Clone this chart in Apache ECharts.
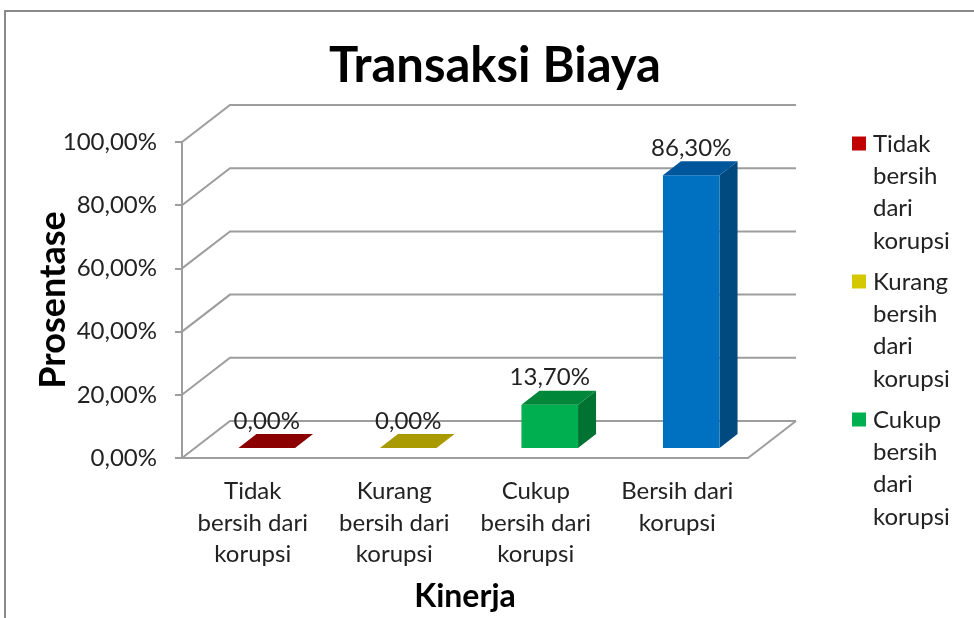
<!DOCTYPE html>
<html>
<head>
<meta charset="utf-8">
<script src="https://cdn.jsdelivr.net/npm/echarts@6/dist/echarts.min.js"></script>
<style>
  html, body { margin: 0; padding: 0; background: #fff; }
  #main { width: 974px; height: 618px; }
</style>
</head>
<body>
<div id="main"></div>
<script>
// data
var categories = ["Tidak bersih dari korupsi", "Kurang bersih dari korupsi", "Cukup bersih dari korupsi", "Bersih dari korupsi"];
var xLabels = ["Tidak\nbersih dari\nkorupsi", "Kurang\nbersih dari\nkorupsi", "Cukup\nbersih dari\nkorupsi", "Bersih dari\nkorupsi"];
var values = [0, 0, 13.7, 86.3];
var yTicks = [0, 20, 40, 60, 80, 100];

// warna per kategori: depan, samping, atas
var frontColors = ["#c00000", "#d6c800", "#00b050", "#0070c0"];
var sideColors = ["#6e0000", "#8a7f00", "#007232", "#004a80"];
var topColors = ["#8b0000", "#a89a00", "#00873a", "#00569a"];

var DX = 48, DY = -37;   // kedalaman dinding belakang
var BX = 18, BY = -14;   // kedalaman batang
var OX = 14, OY = -10;   // posisi batang di lantai

var font = "Lato";

function fmt(v) {
  return v.toFixed(2).replace(".", ",") + "%";
}

var myChart = echarts.init(document.getElementById("main"));

// dinding + garis grid "3D"
var wallSeries = {
  type: "custom",
  name: "wall",
  silent: true,
  z: 1,
  data: yTicks.map(function (v) { return [0, v]; }),
  renderItem: function (params, api) {
    var cs = params.coordSys;
    var y = api.coord([0, api.value(1)])[1];
    var x0 = cs.x;
    var children = [{
      type: "polyline",
      shape: { points: [[x0, y], [x0 + DX, y + DY], [x0 + cs.width + DX, y + DY]] },
      style: { stroke: "#9d9d9d", lineWidth: 2, fill: null }
    }];
    if (api.value(1) === 0) {
      children.push({
        type: "line",
        shape: { x1: x0 + cs.width, y1: y, x2: x0 + cs.width + DX, y2: y + DY },
        style: { stroke: "#9d9d9d", lineWidth: 2 }
      });
    }
    return { type: "group", children: children };
  }
};

function barRender(params, api) {
  var i = api.value(0);
  var v = api.value(1);
  var p0 = api.coord([i, 0]);
  var p1 = api.coord([i, v]);
  var w = api.size([1, 0])[0] * 0.4;
  var cx = p0[0] + OX;
  var bottom = p0[1] + OY;
  var top = p1[1] + OY;
  var l = cx - w / 2, r = cx + w / 2;
  var children = [];
  if (bottom - top > 0.5) {
    children.push({
      type: "polygon",
      shape: { points: [[r, top], [r + BX, top + BY], [r + BX, bottom + BY], [r, bottom]] },
      style: { fill: sideColors[i] }
    });
    children.push({
      type: "rect",
      shape: { x: l, y: top, width: w, height: bottom - top },
      style: { fill: frontColors[i] }
    });
  }
  children.push({
    type: "polygon",
    shape: { points: [[l, top], [l + BX, top + BY], [r + BX, top + BY], [r, top]] },
    style: { fill: topColors[i] }
  });
  children.push({
    type: "text",
    style: {
      x: cx, y: top - 27, text: fmt(v),
      align: "center", verticalAlign: "middle",
      font: "24px " + font, fill: "#222"
    }
  });
  return { type: "group", children: children };
}

var barSeries = categories.map(function (name, i) {
  return {
    type: "custom",
    name: name,
    z: 3,
    itemStyle: { color: frontColors[i] },
    data: [[i, values[i]]],
    renderItem: barRender
  };
});

myChart.setOption({
  animation: false,
  title: {
    text: "Transaksi Biaya",
    left: 329,
    top: 42,
    padding: 0,
    textStyle: { fontFamily: font, fontSize: 49, fontWeight: "bold", color: "#000" }
  },
  graphic: [{
    type: "rect",
    shape: { x: 5, y: 11, width: 1000, height: 700 },
    style: { fill: null, stroke: "#8a8a8a", lineWidth: 2 },
    silent: true
  }],
  legend: {
    orient: "vertical",
    left: 852,
    top: 128,
    padding: 0,
    itemWidth: 16,
    itemHeight: 129,
    itemGap: 9,
    icon: "path://M0,0M16,129M0,8.5h14v14h-14z",
    data: categories.slice(0, 3),
    formatter: function (name) { return name.split(" ").join("\n"); },
    textStyle: { fontFamily: font, fontSize: 24, lineHeight: 32.25, color: "#222" }
  },
  grid: { left: 182, top: 142, width: 566, height: 316, outerBoundsMode: "none", containLabel: false },
  xAxis: {
    type: "category",
    data: categories,
    name: "Kinerja",
    nameLocation: "middle",
    nameGap: 123,
    nameMoveOverlap: false,
    nameTextStyle: { fontFamily: font, fontSize: 32, fontWeight: "bold", color: "#000" },
    axisLine: { lineStyle: { color: "#9d9d9d", width: 2 } },
    axisTick: { show: false },
    axisLabel: {
      interval: 0,
      margin: 18,
      fontFamily: font, fontSize: 24, lineHeight: 31.5, color: "#222",
      formatter: function (val, idx) { return xLabels[idx]; }
    },
    splitLine: { show: false }
  },
  yAxis: {
    type: "value",
    min: 0,
    max: 100,
    interval: 20,
    name: "Prosentase",
    nameLocation: "middle",
    nameGap: 111,
    nameMoveOverlap: false,
    nameRotate: 90,
    nameTextStyle: { fontFamily: font, fontSize: 36, fontWeight: "bold", color: "#000" },
    axisLine: { show: true, lineStyle: { color: "#9d9d9d", width: 2 } },
    axisTick: { show: true, length: 7, lineStyle: { color: "#9d9d9d", width: 2 } },
    axisLabel: {
      margin: 25,
      fontFamily: font, fontSize: 24, color: "#222",
      formatter: function (v) { return fmt(v); }
    },
    splitLine: { show: false }
  },
  series: [wallSeries].concat(barSeries)
});
</script>
</body>
</html>
